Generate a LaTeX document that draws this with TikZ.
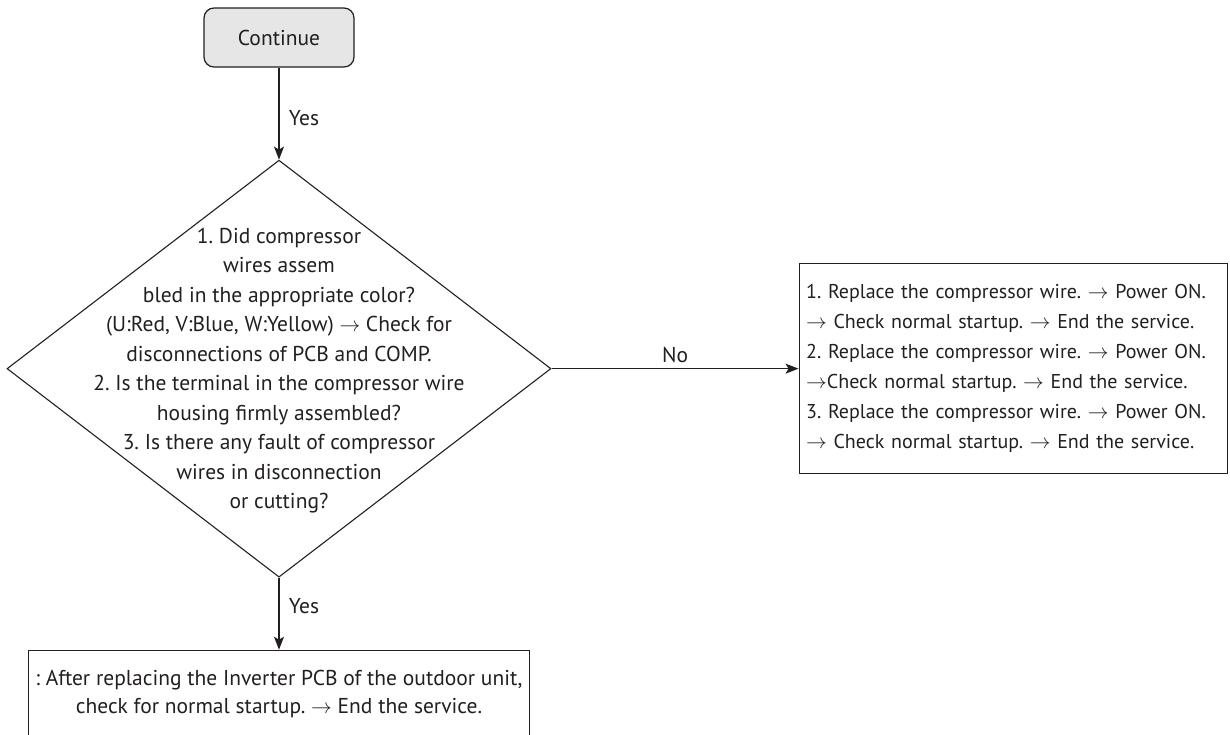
\documentclass[tikz,border=0pt]{standalone}
\usepackage{fontspec}
\setmainfont{PT Sans}
\usetikzlibrary{arrows.meta,positioning,shapes.geometric}
\definecolor{cLine}{HTML}{231F20}
\definecolor{cStart}{HTML}{E6E6E7}
\newcommand{\fsA}{\fontsize{21.5}{28}\selectfont}
\newcommand{\fsD}{\fontsize{21.5}{29.5}\selectfont}
\newcommand{\fsB}{\fontsize{20}{30}\selectfont}
\tikzset{
  startbox/.style={rounded corners=10pt, draw=cLine, line width=1.2pt, fill=cStart,
              text=cLine, font=\fsA, minimum width=150pt, minimum height=59pt},
  decision/.style={diamond, draw=cLine, line width=1.1pt, inner sep=0pt,
              minimum width=544pt, minimum height=417pt},
  actbox/.style={draw=cLine, line width=1.2pt, text=cLine, inner xsep=7pt},
  lbl/.style={font=\fsA, text=cLine},
  flow/.style={-{Stealth[length=13pt,width=10pt,inset=3pt]}, line width=1.1pt, draw=cLine},
}

\begin{document}
\frenchspacing
\begin{tikzpicture}[x=1pt,y=-1pt]
\useasboundingbox (0,0) rectangle (1230,734);
\clip (0,0) rectangle (1230,734);
\node[startbox] (cont) at (279,37.5) {Continue};
\node[decision, below=92pt of cont] (chk) {};
\node[lbl, align=center, font=\fsD] (chktxt) at ([yshift=-2pt]chk.center) {1. Did compressor\\wires assem\\bled in the appropriate color?\\(U:Red, V:Blue, W:Yellow) $\rightarrow$ Check for\\disconnections of PCB and COMP.\\2. Is the terminal in the compressor wire\\housing firmly assembled?\\3. Is there any fault of compressor\\wires in disconnection\\or cutting?};
\node[actbox, right=247pt of chk, text width=414pt, align=left, minimum height=210pt, font=\fsB] (rep) {1. Replace the compressor wire. $\rightarrow$ Power ON.\\$\rightarrow$ Check normal startup. $\rightarrow$ End the service.\\2. Replace the compressor wire. $\rightarrow$ Power ON.\\$\rightarrow$Check normal startup. $\rightarrow$ End the service.\\3. Replace the compressor wire. $\rightarrow$ Power ON.\\$\rightarrow$ Check normal startup. $\rightarrow$ End the service.};
\node[actbox, below=72pt of chk, minimum width=494pt, align=center, font=\fsA, inner ysep=20pt, text depth=60pt] (fix) {: After replacing the Inverter PCB of the outdoor unit,\\check for normal startup. $\rightarrow$ End the service.};
\draw[flow] (cont) -- node[lbl, right=6pt, pos=0.55] {Yes} (chk);
\draw[flow] (chk) -- node[lbl, above=2pt] {No} (rep);
\draw[flow] (chk) -- node[lbl, right=6pt, pos=0.4] {Yes} (fix);
\end{tikzpicture}
\end{document}
